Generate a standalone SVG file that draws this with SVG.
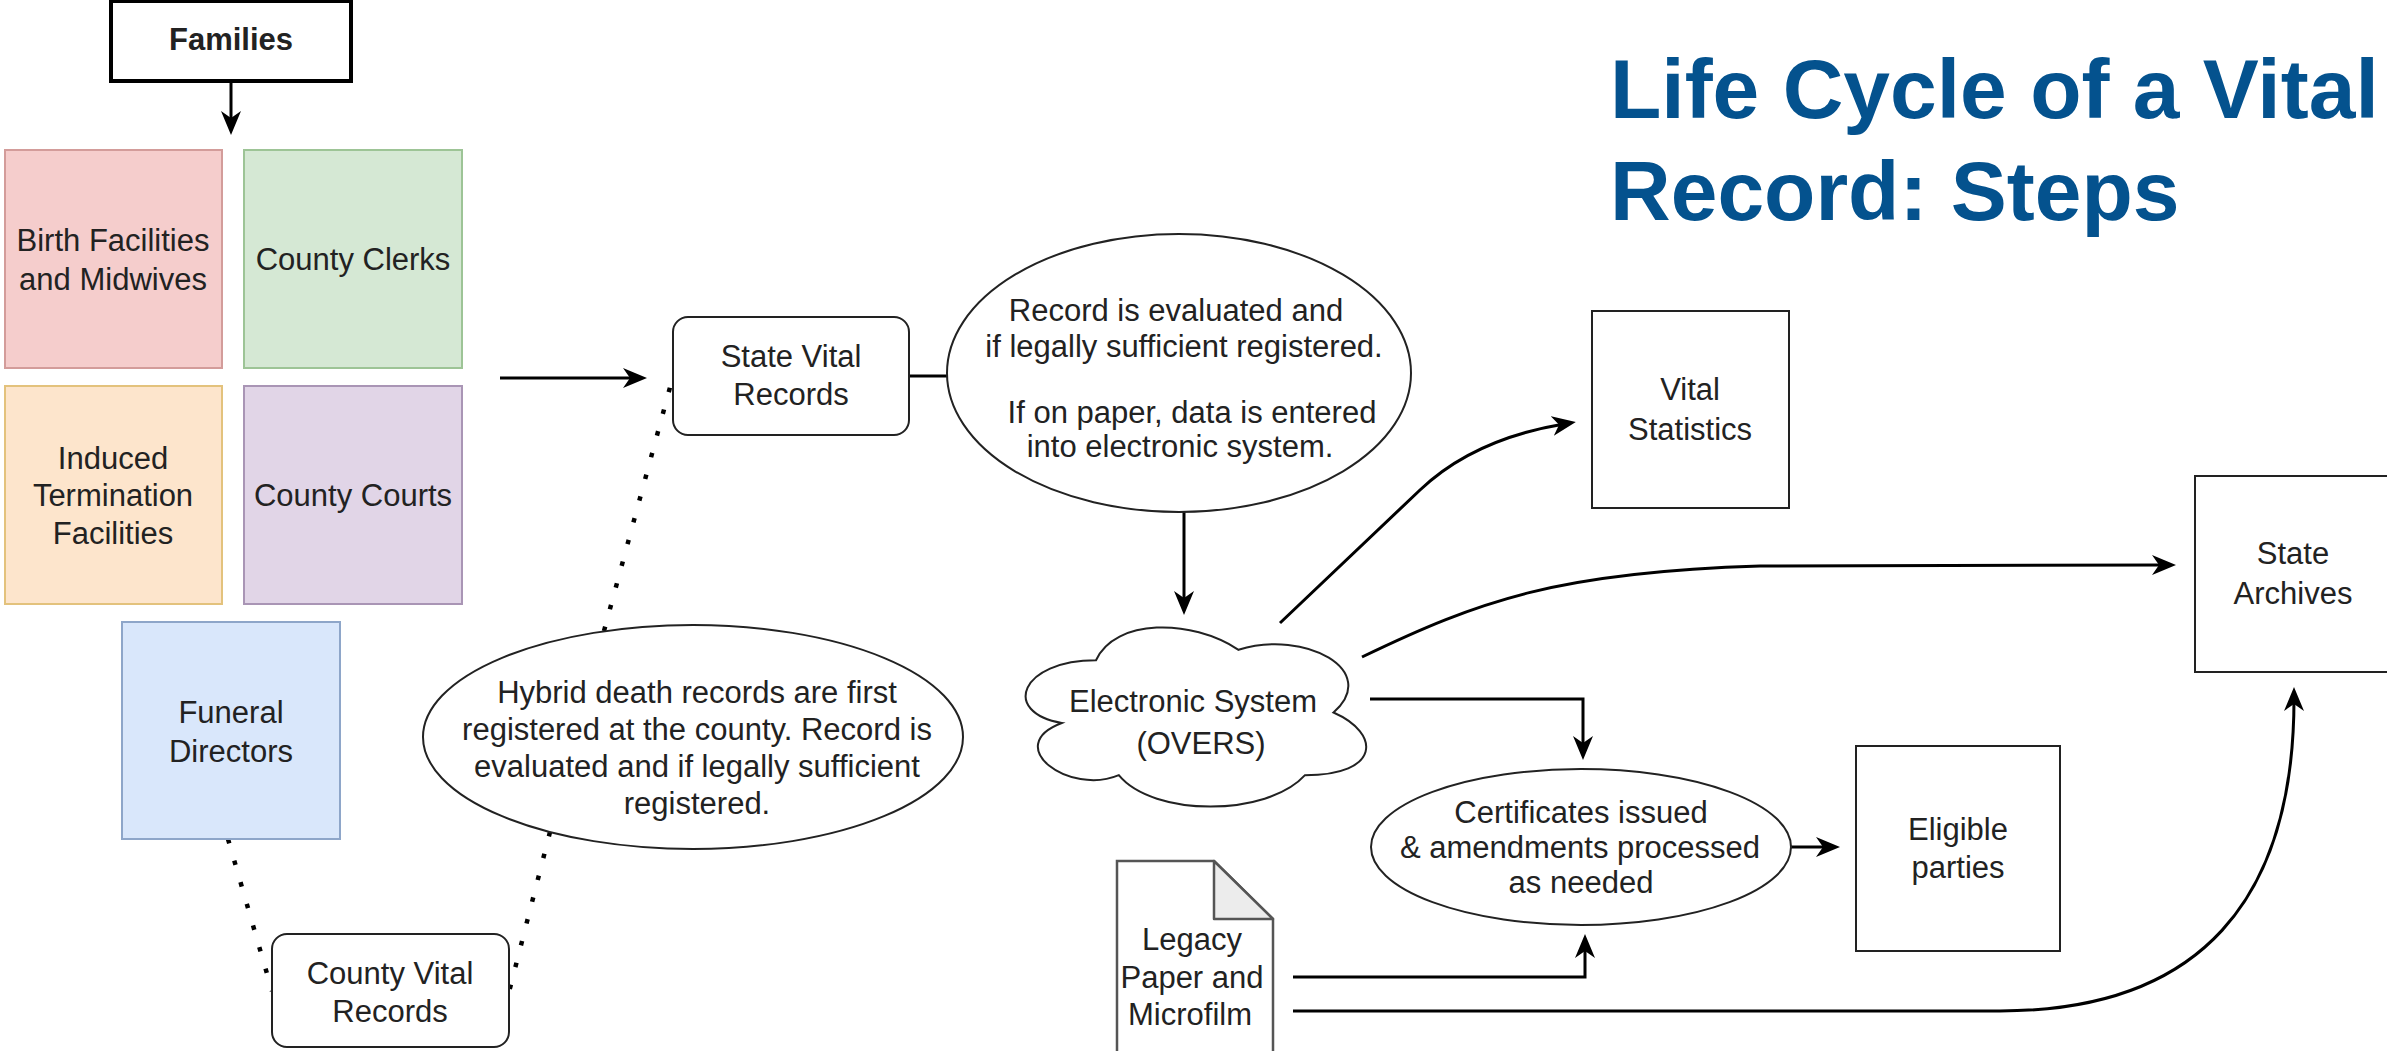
<svg xmlns="http://www.w3.org/2000/svg" width="2387" height="1051" viewBox="0 0 2387 1051">
<defs>
<style>
text{font-family:"Liberation Sans",Arial,sans-serif;font-size:31px;fill:#222;text-anchor:middle}
.title{font-weight:bold;font-size:84px;fill:#04528e;text-anchor:start}
.box{fill:#fff;stroke:#222;stroke-width:2}
.edge{fill:none;stroke:#000;stroke-width:3}
.dot{fill:none;stroke:#000;stroke-width:4.5;stroke-dasharray:4.5 18}
</style>
<marker id="arr" markerUnits="userSpaceOnUse" viewBox="0 0 24 20" markerWidth="24" markerHeight="20" refX="12" refY="10" orient="auto">
<path d="M0,0 L24,10 L0,20 L7,10 Z" fill="#000"/>
</marker>
</defs>
<rect width="2387" height="1051" fill="#fff"/>

<g id="title">
<text class="title" x="1610" y="118">Life Cycle of a Vital</text>
<text class="title" x="1610" y="220">Record: Steps</text>
</g>

<g id="connectors">
<path class="edge" d="M231,81 L231,123" stroke-width="3.5" marker-end="url(#arr)"/>
<path class="edge" d="M500,378 L635,378" marker-end="url(#arr)"/>
<path class="edge" d="M909,376 L948,376"/>
<path class="edge" d="M1184,512 L1184,603" stroke-width="2.5" marker-end="url(#arr)"/>
<path class="edge" d="M1280,623 L1420,490 C1460,452 1510,433 1564,424" marker-end="url(#arr)"/>
<path class="edge" d="M1362,657 C1480,600 1560,572 1760,566 L2164,565" marker-end="url(#arr)"/>
<path class="edge" d="M1370,699 L1583,699 L1583,748" marker-end="url(#arr)"/>
<path class="edge" d="M1791,847 L1828,847" marker-end="url(#arr)"/>
<path class="edge" d="M1293,977 L1585,977 L1585,946" marker-end="url(#arr)"/>
<path class="edge" d="M1293,1011 L2000,1011 C2200,1011 2294,900 2294,699" marker-end="url(#arr)"/>
<path class="dot" d="M228,839 L272,991"/>
<path class="dot" d="M550,832 L509,992"/>
<path class="dot" d="M604,631 L672,380"/>
</g>

<g id="families">
<rect x="111" y="1" width="240" height="80" fill="#fff" stroke="#000" stroke-width="4"/>
<text x="231" y="50" font-weight="bold" fill="#111">Families</text>
</g>

<g id="birth">
<rect x="5" y="150" width="217" height="218" fill="#f5cdcc" stroke="#d39c9a" stroke-width="2"/>
<text x="113" y="251" fill="#3a2727">Birth Facilities</text>
<text x="113" y="290" fill="#3a2727">and Midwives</text>
</g>

<g id="clerks">
<rect x="244" y="150" width="218" height="218" fill="#d5e8d4" stroke="#9dc496" stroke-width="2"/>
<text x="353" y="270" fill="#2b342b">County Clerks</text>
</g>

<g id="induced">
<rect x="5" y="386" width="217" height="218" fill="#fde5cc" stroke="#e3c27c" stroke-width="2"/>
<text x="113" y="469" fill="#3a3026">Induced</text>
<text x="113" y="506" fill="#3a3026">Termination</text>
<text x="113" y="544" fill="#3a3026">Facilities</text>
</g>

<g id="courts">
<rect x="244" y="386" width="218" height="218" fill="#e1d5e7" stroke="#a995b5" stroke-width="2"/>
<text x="353" y="506" fill="#302a36">County Courts</text>
</g>

<g id="funeral">
<rect x="122" y="622" width="218" height="217" fill="#d9e7fb" stroke="#8ea6c9" stroke-width="2"/>
<text x="231" y="723" fill="#263040">Funeral</text>
<text x="231" y="762" fill="#263040">Directors</text>
</g>

<g id="county-vital">
<rect class="box" x="272" y="934" width="237" height="113" rx="15"/>
<text x="390" y="984">County Vital</text>
<text x="390" y="1022">Records</text>
</g>

<g id="hybrid">
<ellipse class="box" cx="693" cy="737" rx="270" ry="112"/>
<text x="697" y="703">Hybrid death records are first</text>
<text x="697" y="740">registered at the county. Record is</text>
<text x="697" y="777">evaluated and if legally sufficient</text>
<text x="697" y="814">registered.</text>
</g>

<g id="state-vital">
<rect class="box" x="673" y="317" width="236" height="118" rx="15"/>
<text x="791" y="367">State Vital</text>
<text x="791" y="405">Records</text>
</g>

<g id="evaluate">
<ellipse class="box" cx="1179" cy="373" rx="232" ry="139"/>
<text x="1176" y="321">Record is evaluated and</text>
<text x="1184" y="357">if legally sufficient registered.</text>
<text x="1192" y="423">If on paper, data is entered</text>
<text x="1180" y="457">into electronic system.</text>
</g>

<g id="electronic">
<path class="box" d="M1096,660.25 C1020,660.25 1001,712.5 1061.8,722.95 C1001,745.94 1069.4,796.1 1118.8,775.2 C1153,817 1267,817 1305,775.2 C1381,775.2 1381,733.4 1333.5,712.5 C1381,670.7 1305,628.9 1238.5,649.8 C1191,618.45 1115,618.45 1096,660.25 Z"/>
<text x="1193" y="712">Electronic System</text>
<text x="1201" y="754">(OVERS)</text>
</g>

<g id="vital-stats">
<rect class="box" x="1592" y="311" width="197" height="197"/>
<text x="1690" y="400">Vital</text>
<text x="1690" y="440">Statistics</text>
</g>

<g id="archives">
<rect class="box" x="2195" y="476" width="200" height="196"/>
<text x="2293" y="564">State</text>
<text x="2293" y="604">Archives</text>
</g>

<g id="certificates">
<ellipse class="box" cx="1581" cy="847" rx="210" ry="78"/>
<text x="1581" y="823">Certificates issued</text>
<text x="1580" y="858">&amp; amendments processed</text>
<text x="1581" y="893">as needed</text>
</g>

<g id="eligible">
<rect class="box" x="1856" y="746" width="204" height="205"/>
<text x="1958" y="840">Eligible</text>
<text x="1958" y="878">parties</text>
</g>

<g id="legacy">
<path d="M1117,861 L1214,861 L1273,919 L1273,1060 L1117,1060 Z" fill="#fff" stroke="#555" stroke-width="2.5"/>
<path d="M1214,861 L1214,919 L1273,919 Z" fill="#ececec" stroke="#555" stroke-width="2.5" stroke-linejoin="round"/>
<text x="1192" y="950">Legacy</text>
<text x="1192" y="988">Paper and</text>
<text x="1190" y="1025">Microfilm</text>
</g>
</svg>
